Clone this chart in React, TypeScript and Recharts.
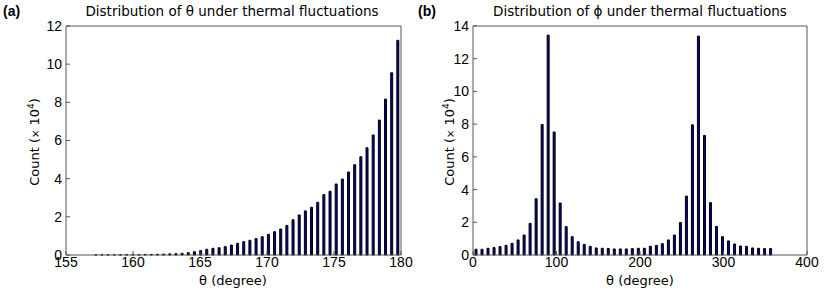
import React from 'react';
import { BarChart, Bar, XAxis, YAxis } from 'recharts';

// bin centres (50 bins each)
const thetaBins = [
  157.23, 157.69, 158.15, 158.61, 159.07, 159.53, 159.99, 160.45, 160.91, 161.37,
  161.83, 162.29, 162.75, 163.21, 163.67, 164.13, 164.59, 165.05, 165.51, 165.97,
  166.43, 166.89, 167.35, 167.81, 168.27, 168.73, 169.19, 169.65, 170.11, 170.57,
  171.03, 171.49, 171.95, 172.41, 172.87, 173.33, 173.79, 174.25, 174.71, 175.17,
  175.63, 176.09, 176.55, 177.01, 177.47, 177.93, 178.39, 178.85, 179.31, 179.77,
];
const thetaCounts = [
  0.01, 0.01, 0.01, 0.01, 0.01, 0.02, 0.02, 0.02, 0.03, 0.03,
  0.04, 0.05, 0.06, 0.07, 0.09, 0.12, 0.17, 0.23, 0.3, 0.35,
  0.38, 0.44, 0.52, 0.61, 0.7, 0.77, 0.86, 0.96, 1.08, 1.22,
  1.36, 1.55, 1.85, 2.1, 2.31, 2.5, 2.76, 3.16, 3.34, 3.72,
  3.98, 4.35, 4.73, 5.15, 5.62, 6.29, 7.07, 8.17, 9.55, 11.25,
];

const phiBins = [
  3.6, 10.8, 18, 25.2, 32.4, 39.6, 46.8, 54, 61.2, 68.4,
  75.6, 82.8, 90, 97.2, 104.4, 111.6, 118.8, 126, 133.2, 140.4,
  147.6, 154.8, 162, 169.2, 176.4, 183.6, 190.8, 198, 205.2, 212.4,
  219.6, 226.8, 234, 241.2, 248.4, 255.6, 262.8, 270, 277.2, 284.4,
  291.6, 298.8, 306, 313.2, 320.4, 327.6, 334.8, 342, 349.2, 356.4,
];
const phiCounts = [
  0.35, 0.35, 0.41, 0.45, 0.51, 0.59, 0.71, 0.92, 1.22, 1.93,
  3.44, 7.98, 13.44, 7.52, 3.18, 1.73, 1.12, 0.81, 0.65, 0.53,
  0.43, 0.41, 0.4, 0.37, 0.37, 0.37, 0.39, 0.41, 0.41, 0.53,
  0.59, 0.69, 0.92, 1.22, 1.98, 3.6, 7.96, 13.38, 7.31, 3.2,
  1.75, 1.12, 0.86, 0.67, 0.55, 0.53, 0.43, 0.41, 0.39, 0.39,
];

const thetaTicks = [155, 160, 165, 170, 175, 180];
const thetaYTicks = [0, 2, 4, 6, 8, 10, 12];
const phiTicks = [0, 100, 200, 300, 400];
const phiYTicks = [0, 2, 4, 6, 8, 10, 12, 14];

const thetaData = thetaBins.map((x, i) => ({ x, count: thetaCounts[i] }));
const phiData = phiBins.map((x, i) => ({ x, count: phiCounts[i] }));

const axisColor = '#555';
const tickStyle = { fontSize: 14, fill: '#000', fontFamily: '"Liberation Sans", Arial, sans-serif' };
const labelFont = '"DejaVu Sans", Verdana, sans-serif';

interface PanelProps {
  data: { x: number; count: number }[];
  xDomain: [number, number];
  xTicks: number[];
  yDomain: [number, number];
  yTicks: number[];
  marginLeft: number;
  marginRight: number;
}

function Panel({ data, xDomain, xTicks, yDomain, yTicks, marginLeft, marginRight }: PanelProps) {
  return (
    <BarChart
      width={415}
      height={294}
      data={data}
      margin={{ top: 25, right: marginRight, bottom: 19, left: marginLeft }}
      barCategoryGap={0}
    >
      <XAxis
        dataKey="x"
        type="number"
        domain={xDomain}
        ticks={xTicks}
        allowDataOverflow
        interval={0}
        stroke={axisColor}
        tickSize={-4}
        tickMargin={6}
        tick={tickStyle}
        height={20}
      />
      {/* top + right axes only close the box and carry inward ticks */}
      <XAxis
        xAxisId="top"
        orientation="top"
        type="number"
        domain={xDomain}
        ticks={xTicks}
        allowDataOverflow
        stroke={axisColor}
        tickSize={-4}
        tick={false}
        height={1}
      />
      <YAxis
        type="number"
        domain={yDomain}
        ticks={yTicks}
        interval={0}
        stroke={axisColor}
        tickSize={-4}
        tickMargin={8}
        tick={tickStyle}
        width={30}
      />
      <YAxis
        yAxisId="right"
        orientation="right"
        type="number"
        domain={yDomain}
        ticks={yTicks}
        stroke={axisColor}
        tickSize={-4}
        tick={false}
        width={1}
      />
      <Bar
        dataKey="count"
        barSize={2}
        fill="#0000a0"
        stroke="#000"
        strokeWidth={1}
        isAnimationActive={false}
      />
    </BarChart>
  );
}

const titleStyle: React.CSSProperties = {
  position: 'absolute',
  top: 3,
  width: 360,
  fontFamily: labelFont,
  fontSize: 13.5,
  whiteSpace: 'nowrap',
  textAlign: 'center',
  transform: 'translateX(-50%)',
};

const yLabelStyle: React.CSSProperties = {
  position: 'absolute',
  top: 142,
  width: 140,
  fontFamily: labelFont,
  fontSize: 13,
  textAlign: 'center',
  transform: 'translate(-50%, -50%) rotate(-90deg)',
  whiteSpace: 'nowrap',
};

const xLabelStyle: React.CSSProperties = {
  position: 'absolute',
  top: 273,
  width: 120,
  fontFamily: labelFont,
  fontSize: 13,
  textAlign: 'center',
  transform: 'translateX(-50%)',
  whiteSpace: 'nowrap',
};

const panelTag: React.CSSProperties = {
  position: 'absolute',
  top: 3,
  fontFamily: '"Liberation Sans", Arial, sans-serif',
  fontWeight: 'bold',
  fontSize: 14,
};

export default function App() {
  return (
    <div style={{ position: 'absolute', left: 0, top: 0, width: 830, height: 294, background: '#fff' }}>
      <div style={{ position: 'absolute', left: 0, top: 0 }}>
        <Panel
          data={thetaData}
          xDomain={[155, 180]}
          xTicks={thetaTicks}
          yDomain={[0, 12]}
          yTicks={thetaYTicks}
          marginLeft={36}
          marginRight={13}
        />
      </div>
      <div style={{ position: 'absolute', left: 415, top: 0 }}>
        <Panel
          data={phiData}
          xDomain={[0, 400]}
          xTicks={phiTicks}
          yDomain={[0, 14]}
          yTicks={phiYTicks}
          marginLeft={28}
          marginRight={22}
        />
      </div>

      <div style={{ ...panelTag, left: 3 }}>(a)</div>
      <div style={{ ...panelTag, left: 418 }}>(b)</div>

      <div style={{ ...titleStyle, left: 232 }}>Distribution of θ under thermal fluctuations</div>
      <div style={{ ...titleStyle, left: 640 }}>Distribution of ϕ under thermal fluctuations</div>

      <div style={{ ...yLabelStyle, left: 34 }}>
        Count (<span style={{ fontSize: 10 }}>×</span> 10<sup style={{ fontSize: 9 }}>4</sup>)
      </div>
      <div style={{ ...yLabelStyle, left: 449 }}>
        Count (<span style={{ fontSize: 10 }}>×</span> 10<sup style={{ fontSize: 9 }}>4</sup>)
      </div>

      <div style={{ ...xLabelStyle, left: 233 }}>θ (degree)</div>
      <div style={{ ...xLabelStyle, left: 640 }}>θ (degree)</div>
    </div>
  );
}
